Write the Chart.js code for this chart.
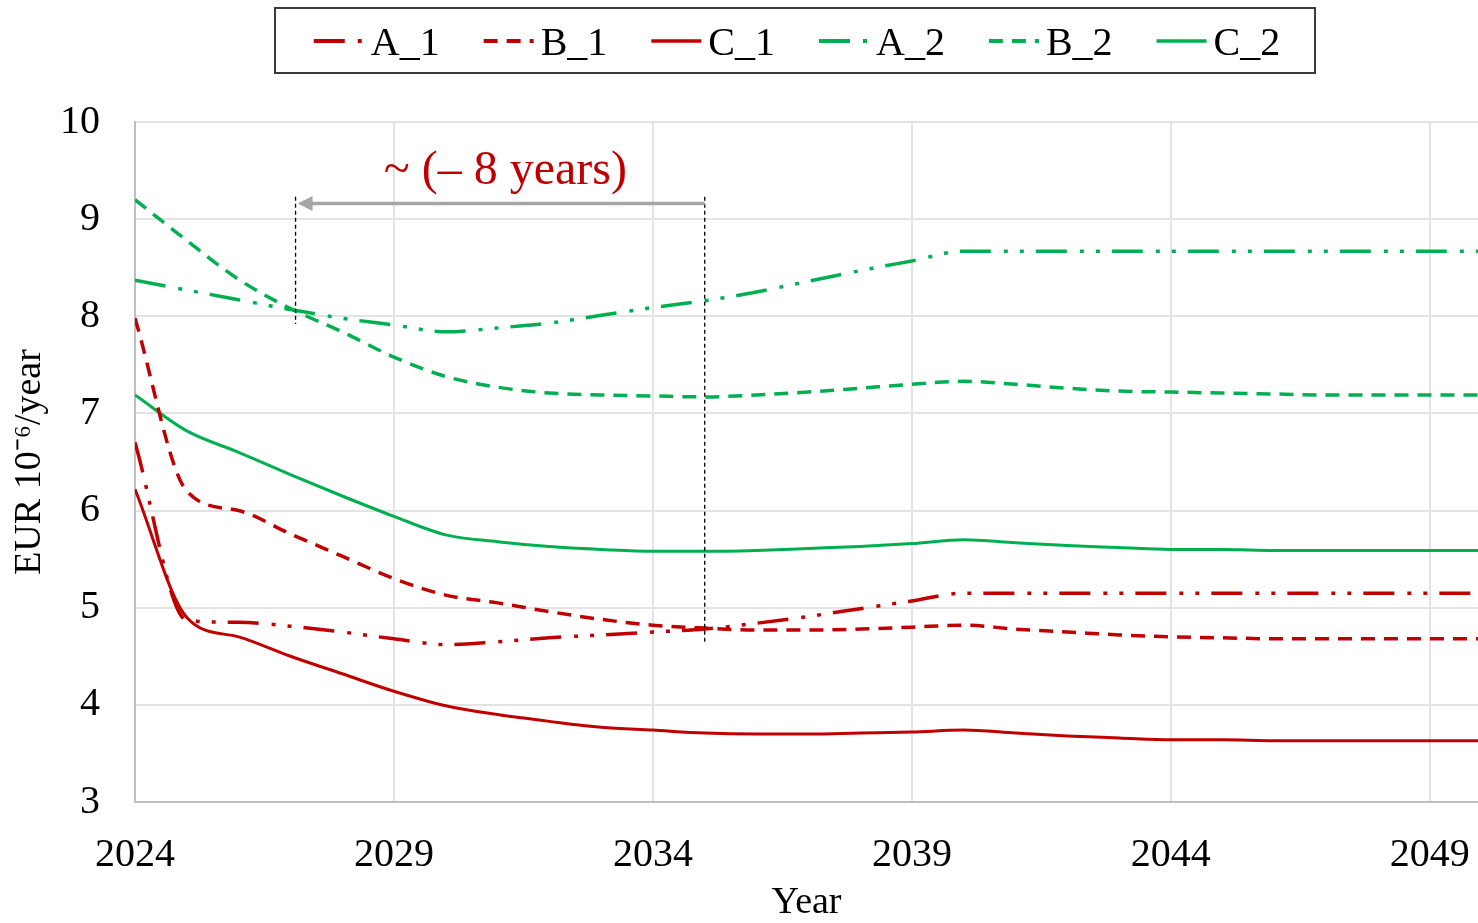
<!DOCTYPE html>
<html>
<head>
<meta charset="utf-8">
<script src="https://cdn.jsdelivr.net/npm/chart.js@4.4.1/dist/chart.umd.min.js"></script>
<style>
  html, body { margin: 0; padding: 0; background: #fff; }
  #wrap { width: 1478px; height: 923px; }
</style>
</head>
<body>
<div id="wrap"><canvas id="chart" width="1478" height="923"></canvas></div>
<script>
// Years on the x axis and the ticks that are labelled
const years = [2024, 2025, 2026, 2027, 2028, 2029, 2030, 2031, 2032, 2033, 2034, 2035, 2036, 2037,
               2038, 2039, 2040, 2041, 2042, 2043, 2044, 2045, 2046, 2047, 2048, 2049, 2050];
const tickYears = [2024, 2029, 2034, 2039, 2044, 2049];

// Series values (EUR 10^-6 / year)
const a1 = [6.70, 4.87, 4.85, 4.81, 4.75, 4.68, 4.62, 4.65, 4.69, 4.72, 4.75, 4.78, 4.84, 4.91,
            4.99, 5.07, 5.15, 5.15, 5.15, 5.15, 5.15, 5.15, 5.15, 5.15, 5.15, 5.15, 5.15];
const b1 = [7.98, 6.20, 6.00, 5.76, 5.53, 5.30, 5.13, 5.05, 4.96, 4.88, 4.82, 4.79, 4.77, 4.77,
            4.78, 4.80, 4.82, 4.78, 4.75, 4.72, 4.70, 4.69, 4.68, 4.68, 4.68, 4.68, 4.68];
const c1 = [6.22, 4.90, 4.70, 4.50, 4.32, 4.14, 3.99, 3.90, 3.83, 3.77, 3.74, 3.71, 3.70, 3.70,
            3.71, 3.72, 3.74, 3.71, 3.68, 3.66, 3.64, 3.64, 3.63, 3.63, 3.63, 3.63, 3.63];
const a2 = [8.37, 8.27, 8.17, 8.07, 7.98, 7.91, 7.84, 7.88, 7.93, 8.01, 8.09, 8.16, 8.25, 8.36,
            8.47, 8.57, 8.67, 8.67, 8.67, 8.67, 8.67, 8.67, 8.67, 8.67, 8.67, 8.67, 8.67];
const b2 = [9.20, 8.78, 8.38, 8.08, 7.84, 7.58, 7.38, 7.27, 7.21, 7.19, 7.18, 7.17, 7.19, 7.22,
            7.26, 7.30, 7.33, 7.30, 7.26, 7.23, 7.22, 7.21, 7.20, 7.19, 7.19, 7.19, 7.19];
const c2 = [7.19, 6.82, 6.60, 6.37, 6.15, 5.94, 5.75, 5.68, 5.63, 5.60, 5.58, 5.58, 5.59, 5.61,
            5.63, 5.66, 5.70, 5.67, 5.64, 5.62, 5.60, 5.60, 5.59, 5.59, 5.59, 5.59, 5.59];

// The "8 years" shift annotation: from 2035 back to about 2027
const shiftFrom = 2035;
const shiftTo = 2027.1;
const shiftLabel = '~ (\u2013 8 years)';

const RED = '#C00000';
const GREEN = '#00B050';
const DASH_DOT_DOT = [31, 13, 4, 12, 4, 12];
const DASH = [14, 9];
const SERIF = '"Liberation Serif", "Times New Roman", serif';

function series(label, values, color, dash, width) {
    return {
        label: label,
        data: years.map((y, i) => ({ x: y, y: values[i] })),
        borderColor: color,
        borderDash: dash,
        borderWidth: width,
        pointRadius: 0,
        fill: false,
        cubicInterpolationMode: 'monotone'
    };
}

// Legend in a framed box, plus the shift arrow and marker lines
const overlay = {
    id: 'overlay',
    afterDatasetsDraw(chart) {
        const ctx = chart.ctx;
        const xs = chart.scales.x, ys = chart.scales.y;
        const xFrom = xs.getPixelForValue(shiftFrom);
        const xTo = xs.getPixelForValue(shiftTo);
        const yArrow = ys.getPixelForValue(9.16);
        ctx.save();

        // dashed marker lines
        ctx.strokeStyle = '#000';
        ctx.lineWidth = 1.3;
        ctx.setLineDash([4, 3]);
        ctx.beginPath();
        ctx.moveTo(xTo, ys.getPixelForValue(9.23));
        ctx.lineTo(xTo, ys.getPixelForValue(7.92));
        ctx.moveTo(xFrom, ys.getPixelForValue(9.23));
        ctx.lineTo(xFrom, ys.getPixelForValue(4.65));
        ctx.stroke();

        // arrow pointing left
        ctx.setLineDash([]);
        ctx.strokeStyle = '#A6A6A6';
        ctx.fillStyle = '#A6A6A6';
        ctx.lineWidth = 3.5;
        ctx.beginPath();
        ctx.moveTo(xFrom, yArrow);
        ctx.lineTo(xTo + 14, yArrow);
        ctx.stroke();
        ctx.beginPath();
        ctx.moveTo(xTo + 2, yArrow);
        ctx.lineTo(xTo + 17, yArrow - 7.5);
        ctx.lineTo(xTo + 17, yArrow + 7.5);
        ctx.closePath();
        ctx.fill();

        // label above the arrow
        ctx.fillStyle = RED;
        ctx.font = '48px ' + SERIF;
        ctx.textAlign = 'center';
        ctx.textBaseline = 'middle';
        ctx.fillText(shiftLabel, xs.getPixelForValue(2031.15), ys.getPixelForValue(9.49));
        ctx.restore();
    },
    afterDraw(chart) {
        const ctx = chart.ctx;
        const sets = chart.data.datasets;
        ctx.save();
        ctx.strokeStyle = '#3a3a3a';
        ctx.lineWidth = 2;
        ctx.strokeRect(275, 8, 1040, 65);

        ctx.font = '40px ' + SERIF;
        ctx.textBaseline = 'alphabetic';
        ctx.textAlign = 'left';
        const sample = 50, gapText = 7, gapItem = 44;
        const widths = sets.map(d => ctx.measureText(d.label).width);
        const total = widths.reduce((s, w) => s + sample + gapText + w, 0) + gapItem * (sets.length - 1);
        let x = 797 - total / 2;
        sets.forEach((d, i) => {
            ctx.strokeStyle = d.borderColor;
            ctx.lineWidth = d.borderWidth + 0.5;
            ctx.setLineDash(d.borderDash || []);
            ctx.beginPath();
            ctx.moveTo(x, 41);
            ctx.lineTo(x + sample, 41);
            ctx.stroke();
            ctx.setLineDash([]);
            ctx.fillStyle = '#000';
            ctx.fillText(d.label, x + sample + gapText, 55);
            x += sample + gapText + widths[i] + gapItem;
        });
        ctx.restore();
    }
};

new Chart(document.getElementById('chart'), {
    type: 'line',
    data: {
        datasets: [
            series('A_1', a1, RED, DASH_DOT_DOT, 3.5),
            series('B_1', b1, RED, DASH, 3.5),
            series('C_1', c1, RED, [], 3),
            series('A_2', a2, GREEN, DASH_DOT_DOT, 3.5),
            series('B_2', b2, GREEN, DASH, 3.5),
            series('C_2', c2, GREEN, [], 3)
        ]
    },
    options: {
        responsive: false,
        animation: false,
        layout: { padding: { top: 122, left: 0, right: 0, bottom: 0 } },
        plugins: {
            legend: { display: false },
            tooltip: { enabled: false }
        },
        scales: {
            x: {
                type: 'linear',
                min: 2024,
                max: 2049.93,
                afterBuildTicks: scale => { scale.ticks = tickYears.map(v => ({ value: v })); },
                afterFit: scale => {
                    scale.height = 121;
                    scale.paddingLeft = 0;
                    scale.paddingRight = 0;
                },
                ticks: {
                    callback: v => String(v),
                    font: { family: SERIF, size: 40 },
                    color: '#000',
                    padding: 29,
                    maxRotation: 0,
                    autoSkip: false
                },
                grid: { color: '#e3e3e3', lineWidth: 2, drawTicks: false },
                border: { color: '#bfbfbf', width: 2 },
                title: {
                    display: true,
                    text: 'Year',
                    font: { family: SERIF, size: 38, lineHeight: 1 },
                    color: '#000',
                    padding: { top: 0, bottom: 1 }
                }
            },
            y: {
                min: 3,
                max: 10,
                afterFit: scale => { scale.width = 135; },
                ticks: {
                    stepSize: 1,
                    font: { family: SERIF, size: 40 },
                    color: '#000',
                    padding: 35
                },
                grid: { color: '#e3e3e3', lineWidth: 2, drawTicks: false },
                border: { color: '#bfbfbf', width: 2 },
                title: {
                    display: true,
                    text: 'EUR 10\u207B\u2076/year',
                    font: { family: SERIF, size: 38, lineHeight: 1 },
                    color: '#000',
                    padding: { top: 11, bottom: 0 }
                }
            }
        }
    },
    plugins: [overlay]
});
</script>
</body>
</html>
